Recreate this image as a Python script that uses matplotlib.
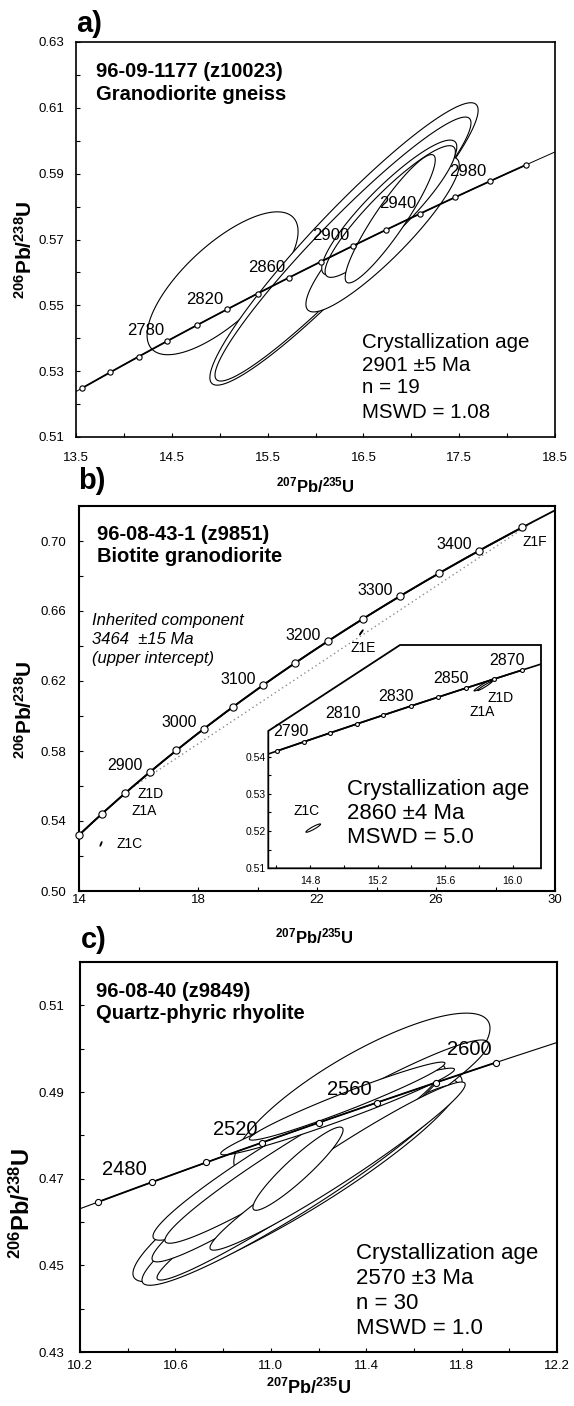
import numpy as np
import matplotlib
matplotlib.use('Agg')
import matplotlib.pyplot as plt
from matplotlib.ticker import FormatStrFormatter
from matplotlib.patches import Polygon

plt.rcParams['font.family'] = ['Liberation Sans', 'DejaVu Sans']
plt.rcParams['mathtext.fontset'] = 'custom'
plt.rcParams['mathtext.rm'] = 'Liberation Sans'
plt.rcParams['mathtext.bf'] = 'Liberation Sans:bold'
plt.rcParams['mathtext.it'] = 'Liberation Sans:italic'

W, H = 574, 1406
L238 = 1.55125e-10
L235 = 9.8485e-10

# ---------------- data ----------------
# panel a
a_marker_ages = [2720, 2740, 2760, 2780, 2800, 2820, 2840, 2860, 2880, 2900,
                 2920, 2940, 2960, 2980, 3000]
a_label_ages = [2780, 2820, 2860, 2900, 2940, 2980]
a_ell_cx = [15.03, 16.2975, 16.287, 16.70, 16.77, 16.78, 16.78]
a_ell_cy = [0.5567, 0.56865, 0.5671, 0.5715, 0.5797, 0.5785, 0.5763]
a_ell_sx = [0.788, 1.40, 1.336, 0.80, 0.705, 0.68, 0.47]
a_ell_sy = [0.0217, 0.0429, 0.0401, 0.0235, 0.0205, 0.020, 0.0195]
a_ell_rho = [0.725, 0.946, 0.955, 0.90, 0.90, 0.91, 0.916]
a_title = ["96-09-1177 (z10023)", "Granodiorite gneiss"]
a_result = ["Crystallization age", "2901 \u00b15 Ma", "n = 19", "MSWD = 1.08"]

# panel b (main)
b_marker_ages = [2750, 2800, 2850, 2900, 2950, 3000, 3050, 3100, 3150, 3200,
                 3250, 3300, 3350, 3400, 3450]
b_label_ages = [2900, 3000, 3100, 3200, 3300, 3400]
b_intercepts = [2860, 3464]
b_ell_cx = [14.74, 23.49]
b_ell_cy = [0.5269, 0.6478]
b_ell_sx = [0.034, 0.06]
b_ell_sy = [0.00126, 0.0014]
b_ell_rho = [0.9, 0.95]
b_zlabels = ["Z1D", "Z1A", "Z1C", "Z1E", "Z1F"]
b_zlabel_x = [16.41, 16.18, 15.69, 23.556, 29.33]
b_zlabel_y = [0.5554, 0.5457, 0.5269, 0.6391, 0.6994]
b_title = ["96-08-43-1 (z9851)", "Biotite granodiorite"]
b_inherit = ["Inherited component", "3464  \u00b115 Ma", "(upper intercept)"]

# panel b (inset)
i_marker_ages = [2790, 2800, 2810, 2820, 2830, 2840, 2850, 2860, 2870, 2880]
i_label_ages = [2790, 2810, 2830, 2850, 2870]
i_ell_cx = [14.819, 15.8305, 15.835]
i_ell_cy = [0.5208, 0.5593, 0.5590]
i_ell_sx = [0.0434, 0.060, 0.0434]
i_ell_sy = [0.00112, 0.00166, 0.00125]
i_ell_rho = [0.93, 0.97, 0.97]
i_zlabels = ["Z1C", "Z1D", "Z1A"]
i_zlabel_x = [14.78, 15.929, 15.817]
i_zlabel_y = [0.5255, 0.5558, 0.5519]
b_result = ["Crystallization age", "2860 \u00b14 Ma", "MSWD = 5.0"]

# panel c
c_marker_ages = [2460, 2480, 2500, 2520, 2540, 2560, 2580, 2600]
c_label_ages = [2480, 2520, 2560, 2600]
c_ell_cx = [11.382, 11.112, 11.122, 11.209, 11.148, 11.116, 11.133, 11.28, 11.28, 11.32, 11.114]
c_ell_cy = [0.4893, 0.4703, 0.4691, 0.4789, 0.4691, 0.4735, 0.4751, 0.4729, 0.4855, 0.4879, 0.4723]
c_ell_sx = [0.537, 0.690, 0.662, 0.703, 0.625, 0.614, 0.577, 0.535, 0.49, 0.41, 0.189]
c_ell_sy = [0.0189, 0.0241, 0.0237, 0.0231, 0.0225, 0.0227, 0.0200, 0.0194, 0.0100, 0.0090, 0.0096]
c_ell_rho = [0.815, 0.92, 0.95, 0.96, 0.975, 0.965, 0.965, 0.97, 0.97, 0.97, 0.93]
c_title = ["96-08-40 (z9849)", "Quartz-phyric rhyolite"]
c_result = ["Crystallization age", "2570 \u00b13 Ma", "n = 30", "MSWD = 1.0"]


# ---------------- helpers ----------------
def conc(t_ma):
    t = np.asarray(t_ma, dtype=float) * 1e6
    return np.exp(L235 * t) - 1.0, np.exp(L238 * t) - 1.0


def age_from_x(x):
    return np.log(1.0 + x) / L235 / 1e6


fig = plt.figure(figsize=(W / 100, H / 100), dpi=100)


def add_ax(l, t, r, b):
    return fig.add_axes([l / W, 1 - b / H, (r - l) / W, (b - t) / H])


def ftext(px, py, s, **kw):
    fig.text(px / W, 1 - py / H, s, ha='left', va='baseline', **kw)


def style(ax, xlim, ylim, xmaj, xmin, ymaj, ymin, xfmt, yfmt, xpad, ypad,
          lw=1.3, lsize=9.5):
    ax.set_xlim(xlim)
    ax.set_ylim(ylim)
    ax.set_xticks(xmaj)
    ax.set_xticks(xmin, minor=True)
    ax.set_yticks(ymaj)
    ax.set_yticks(ymin, minor=True)
    ax.xaxis.set_major_formatter(FormatStrFormatter(xfmt))
    ax.yaxis.set_major_formatter(FormatStrFormatter(yfmt))
    ax.tick_params(which='both', direction='in', length=3, width=0.8,
                   labelsize=lsize, top=False, right=False, colors='black')
    ax.tick_params(axis='x', which='both', pad=xpad)
    ax.tick_params(axis='y', which='both', pad=ypad)
    for s in ax.spines.values():
        s.set_linewidth(lw)


def draw_ellipses(ax, cx, cy, sx, sy, rho, lw=0.8):
    th = np.linspace(0, 2 * np.pi, 400)
    for i in range(len(cx)):
        x = cx[i] + sx[i] * np.cos(th)
        y = cy[i] + sy[i] * (rho[i] * np.cos(th) + np.sqrt(1 - rho[i] ** 2) * np.sin(th))
        ax.fill(x, y, facecolor='white', edgecolor='black', lw=lw, zorder=2 + 0.01 * i)


def draw_concordia(ax, xlim, marker_ages, label_ages, ms, off, fs,
                   lw_main=1.3, lw_thin=0.7):
    t0, t1 = age_from_x(xlim[0]), age_from_x(xlim[1])
    ages = np.linspace(t0, t1, 600)
    x, y = conc(ages)
    ax.plot(x, y, color='black', lw=lw_thin, zorder=5)
    seg = np.linspace(max(t0, marker_ages[0]), marker_ages[-1], 400)
    xs, ys = conc(seg)
    ax.plot(xs, ys, color='black', lw=lw_main, zorder=5)
    mx, my = conc(marker_ages)
    ax.plot(mx, my, 'o', ms=ms, mfc='white', mec='black', mew=0.8, zorder=6,
            clip_on=False)
    for a in label_ages:
        px, py = conc(a)
        ax.annotate(str(a), xy=(float(px), float(py)), xytext=off,
                    textcoords='offset pixels', ha='center', va='center',
                    fontsize=fs, zorder=7)


ylab = r'$\mathbf{^{206}Pb/^{238}U}$'
xlab = r'$\mathbf{^{207}Pb/^{235}U}$'

# ================= panel a =================
axa = add_ax(76, 42, 555, 437)
style(axa, (13.5, 18.5), (0.51, 0.63),
      [13.5, 14.5, 15.5, 16.5, 17.5, 18.5], [14.0, 15.0, 16.0, 17.0, 18.0],
      [0.51, 0.53, 0.55, 0.57, 0.59, 0.61, 0.63], [0.52, 0.54, 0.56, 0.58, 0.60, 0.62],
      '%.1f', '%.2f', xpad=10.5, ypad=8.5, lw=1.2)
draw_ellipses(axa, a_ell_cx, a_ell_cy, a_ell_sx, a_ell_sy, a_ell_rho)
draw_concordia(axa, (13.5, 18.5), a_marker_ages, a_label_ages, ms=3.8,
               off=(-22, 10), fs=12)
axa.set_ylabel(ylab, fontsize=15)
axa.yaxis.set_label_coords(-0.107, 0.473)
axa.set_xlabel(xlab, fontsize=12)
axa.xaxis.set_label_coords(0.499, -0.1215)
axa.xaxis.label.set_va('center')
axa.yaxis.label.set_va('center')

ftext(76, 32.5, 'a)', fontsize=21, fontweight='bold')
ftext(96, 77.3, a_title[0], fontsize=14.5, fontweight='bold')
ftext(96, 100, a_title[1], fontsize=14.5, fontweight='bold')
for k, yy in enumerate([348.3, 370.7, 393.3, 417.7]):
    ftext(362, yy, a_result[k], fontsize=14.8)

# ================= panel b =================
axb = add_ax(79, 506, 555, 891)
style(axb, (14, 30), (0.50, 0.72),
      [14, 18, 22, 26, 30], [16, 20, 24, 28],
      [0.50, 0.54, 0.58, 0.62, 0.66, 0.70], [0.52, 0.56, 0.60, 0.64, 0.68, 0.72],
      '%d', '%.2f', xpad=2.5, ypad=9.0, lw=1.5)
dx, dy = conc(b_intercepts)
axb.plot(dx, dy, color='#8c8c8c', lw=1.0, ls=(0, (1, 2.2)), zorder=3)
draw_ellipses(axb, b_ell_cx, b_ell_cy, b_ell_sx, b_ell_sy, b_ell_rho)
draw_concordia(axb, (14, 30), b_marker_ages, b_label_ages, ms=5.2,
               off=(-25, 6), fs=11.5, lw_main=1.3, lw_thin=1.3)
for s, xx, yy in zip(b_zlabels, b_zlabel_x, b_zlabel_y):
    axb.text(xx, yy, s, ha='center', va='center', fontsize=10, zorder=7)
axb.set_ylabel(ylab, fontsize=15)
axb.yaxis.set_label_coords(-0.114, 0.47)
axb.set_xlabel(xlab, fontsize=12)
axb.xaxis.set_label_coords(0.494, -0.119)
axb.xaxis.label.set_va('center')
axb.yaxis.label.set_va('center')

ftext(78.5, 489, 'b)', fontsize=21, fontweight='bold')
ftext(96.7, 540, b_title[0], fontsize=14.5, fontweight='bold')
ftext(96.7, 561.7, b_title[1], fontsize=14.5, fontweight='bold')
for k, yy in enumerate([625, 644, 663]):
    ftext(92.3, yy, b_inherit[k], fontsize=12, style='italic')

# inset
axi = add_ax(268.3, 645, 541, 868.3)
style(axi, (14.553, 16.167), (0.51, 0.57),
      [14.8, 15.2, 15.6, 16.0], [14.6, 15.0, 15.4, 15.8],
      [0.51, 0.52, 0.53, 0.54], [0.515, 0.525, 0.535],
      '%.1f', '%.2f', xpad=5.5, ypad=2.0, lw=1.3, lsize=7.5)
axi.tick_params(which='both', length=2.5)
for s in axi.spines.values():
    s.set_visible(False)
axi.patch.set_visible(False)
frame = Polygon([(0, 0), (0, 0.615), (0.483, 1), (1, 1), (1, 0)], closed=True,
                facecolor='white', edgecolor='black', lw=1.3,
                transform=axi.transAxes, zorder=0.5, clip_on=False)
axi.add_patch(frame)
draw_ellipses(axi, i_ell_cx, i_ell_cy, i_ell_sx, i_ell_sy, i_ell_rho, lw=0.8)
draw_concordia(axi, (14.553, 16.167), i_marker_ages, i_label_ages, ms=2.8,
               off=(13, 19), fs=11.5, lw_main=1.2, lw_thin=1.2)
for s, xx, yy in zip(i_zlabels, i_zlabel_x, i_zlabel_y):
    axi.text(xx, yy, s, ha='center', va='center', fontsize=10, zorder=7)
for k, yy in enumerate([795, 819, 843.3]):
    ftext(347.3, yy, b_result[k], fontsize=16)

# ================= panel c =================
axc = add_ax(80, 962, 557, 1352)
style(axc, (10.2, 12.2), (0.43, 0.52),
      [10.2, 10.6, 11.0, 11.4, 11.8, 12.2], [10.4, 10.8, 11.2, 11.6, 12.0],
      [0.43, 0.45, 0.47, 0.49, 0.51], [0.44, 0.46, 0.48, 0.50, 0.52],
      '%.1f', '%.2f', xpad=5.8, ypad=11.5, lw=1.5)
draw_ellipses(axc, c_ell_cx, c_ell_cy, c_ell_sx, c_ell_sy, c_ell_rho)
draw_concordia(axc, (10.2, 12.2), c_marker_ages, c_label_ages, ms=4.4,
               off=(-27, 13), fs=14.5, lw_main=1.3, lw_thin=0.8)
axc.set_ylabel(ylab, fontsize=17)
axc.yaxis.set_label_coords(-0.1216, 0.382)
axc.set_xlabel(xlab, fontsize=13)
axc.xaxis.set_label_coords(0.48, -0.092)
axc.xaxis.label.set_va('center')
axc.yaxis.label.set_va('center')

ftext(81, 948.3, 'c)', fontsize=21, fontweight='bold')
ftext(96, 997.3, c_title[0], fontsize=14.5, fontweight='bold')
ftext(96, 1019.3, c_title[1], fontsize=14.5, fontweight='bold')
for k, yy in enumerate([1258.5, 1284, 1309, 1334]):
    ftext(356, yy, c_result[k], fontsize=16)

fig.savefig('out.png', dpi=100)
